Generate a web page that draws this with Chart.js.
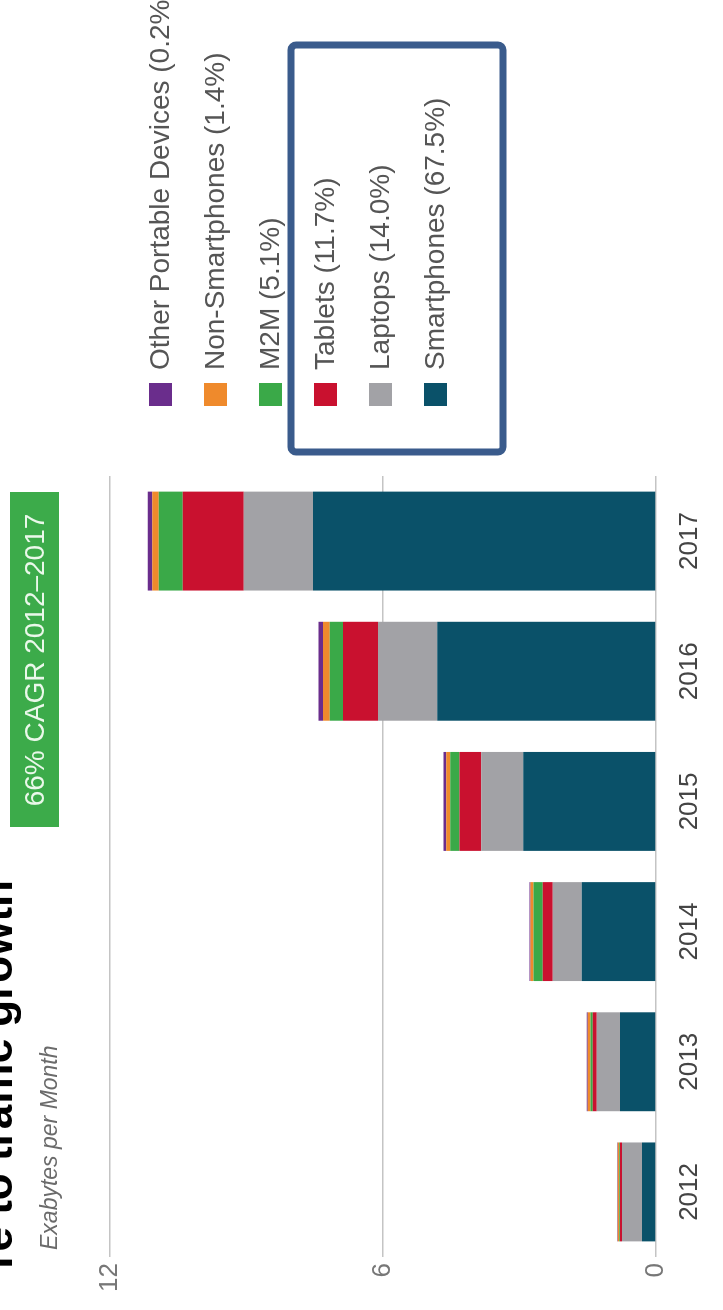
<!DOCTYPE html>
<html>
<head>
<meta charset="utf-8">
<script src="https://cdn.jsdelivr.net/npm/chart.js@4"></script>
<style>
  html, body { margin: 0; padding: 0; background: #fff; overflow: hidden; }
  #wrap {
    position: absolute;
    left: 0;
    top: 0;
    width: 1310px;
    height: 723px;
    transform-origin: 0 0;
    transform: translateY(1310px) rotate(-90deg);
    background: #fff;
  }
</style>
</head>
<body>
<div id="wrap"><canvas id="trafficChart" width="1310" height="723"></canvas></div>
<script>
const years = ["2012", "2013", "2014", "2015", "2016", "2017"];
const yTicks = [0, 6, 12];

// Exabytes per month by device type
const smartphones = [0.31, 0.79, 1.63, 2.92, 4.81, 7.54];
const laptops = [0.44, 0.51, 0.64, 0.92, 1.3, 1.52];
const tablets = [0.04, 0.09, 0.22, 0.48, 0.77, 1.34];
const m2m = [0.02, 0.05, 0.2, 0.2, 0.29, 0.53];
const nonSmartphones = [0.03, 0.06, 0.07, 0.09, 0.15, 0.14];
const otherPortable = [0.01, 0.02, 0.02, 0.06, 0.1, 0.1];

const seriesLabels = [
  "Smartphones (67.5%)",
  "Laptops (14.0%)",
  "Tablets (11.7%)",
  "M2M (5.1%)",
  "Non-Smartphones (1.4%)",
  "Other Portable Devices (0.2%)",
];
const seriesColors = ["#0a5169", "#a2a2a6", "#c9112f", "#3aa948", "#ef8a2c", "#6a2d8c"];

const FONT = "'Liberation Sans', Arial, sans-serif";

// titles, growth badge, legend and the highlight frame
const extras = {
  id: "extras",
  afterDraw(chart) {
    const ctx = chart.ctx;
    ctx.save();

    // slide heading (mostly off the top edge)
    ctx.fillStyle = "#000";
    ctx.font = "bold 44px " + FONT;
    ctx.textAlign = "right";
    ctx.textBaseline = "alphabetic";
    ctx.fillText("re to traffic growth", 430, 12);

    // axis caption
    ctx.fillStyle = "#6b6b6b";
    ctx.font = "italic 23px " + FONT;
    ctx.textAlign = "left";
    ctx.fillText("Exabytes per Month", 60, 57);

    // CAGR badge
    ctx.fillStyle = "#3cab4a";
    ctx.fillRect(483, 10, 335, 49);
    ctx.fillStyle = "#eaf8ea";
    ctx.font = "28px " + FONT;
    ctx.textAlign = "center";
    ctx.textBaseline = "middle";
    ctx.fillText("66% CAGR 2012\u20132017", 650, 36);

    // legend, top item is the last dataset
    const ds = chart.data.datasets;
    ctx.font = "28px " + FONT;
    ctx.textAlign = "left";
    ctx.textBaseline = "middle";
    for (let i = 0; i < ds.length; i++) {
      const d = ds[ds.length - 1 - i];
      const cy = 160 + i * 55;
      ctx.fillStyle = d.backgroundColor;
      ctx.fillRect(904, cy - 11, 23, 23);
      ctx.fillStyle = "#555";
      ctx.fillText(d.label, 940, cy + 1);
    }

    // frame round the three main devices
    ctx.strokeStyle = "#3a5b8c";
    ctx.lineWidth = 7;
    ctx.beginPath();
    ctx.roundRect(858, 291, 407, 212, 5);
    ctx.stroke();

    ctx.restore();
  },
};

const data = [smartphones, laptops, tablets, m2m, nonSmartphones, otherPortable];

new Chart(document.getElementById("trafficChart"), {
  type: "bar",
  data: {
    labels: years,
    datasets: data.map((values, i) => ({
      label: seriesLabels[i],
      data: values,
      backgroundColor: seriesColors[i],
      borderWidth: 0,
      categoryPercentage: 1,
      barPercentage: 0.76,
    })),
  },
  options: {
    responsive: false,
    animation: false,
    devicePixelRatio: 1,
    layout: {
      padding: { top: 110, right: 476, bottom: 0, left: 0 },
    },
    plugins: {
      legend: { display: false },
      tooltip: { enabled: false },
    },
    scales: {
      x: {
        stacked: true,
        grid: { display: false },
        border: { display: false },
        ticks: {
          color: "#444",
          font: { family: FONT, size: 26 },
          padding: 10,
        },
        afterFit(scale) {
          scale.height = 67;
        },
      },
      y: {
        stacked: true,
        min: 0,
        max: 12,
        afterBuildTicks(scale) {
          scale.ticks = yTicks.map((v) => ({ value: v }));
        },
        grid: {
          color: "#c4c4c4",
          lineWidth: 1.5,
          drawTicks: false,
        },
        border: { display: false },
        ticks: {
          color: "#777",
          font: { family: FONT, size: 26 },
          padding: 6,
        },
        afterFit(scale) {
          scale.width = 53;
        },
      },
    },
  },
  plugins: [extras],
});
</script>
</body>
</html>
